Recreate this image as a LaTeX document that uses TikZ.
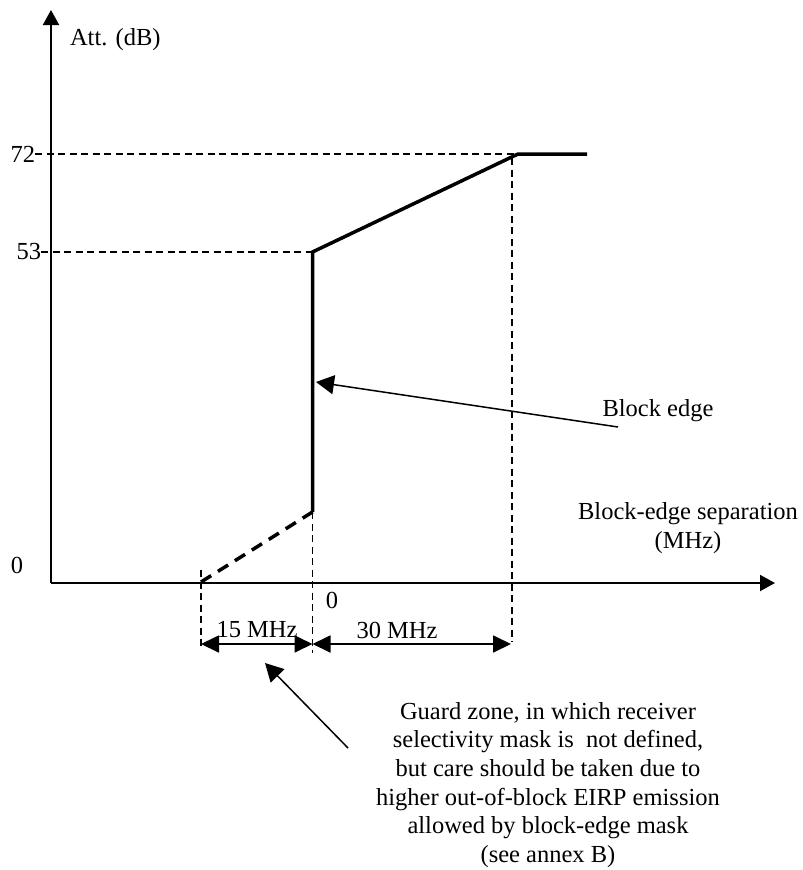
\documentclass[tikz,border=0pt]{standalone}
\usepackage{fontspec}
\setmainfont{Liberation Serif}
\usetikzlibrary{arrows.meta}
\begin{document}
\begin{tikzpicture}[x=1pt,y=-1pt,
  every node/.style={inner sep=0pt,outer sep=0pt,font=\fontsize{24.5}{28.7}\selectfont},
  axis/.style={line width=2pt,-{Triangle[length=15pt,width=16pt]}},
  curve/.style={line width=3.5pt,line join=miter},
  thickdash/.style={line width=3.5pt,dash pattern=on 12pt off 8pt},
  guide/.style={line width=1.5pt,dash pattern=on 7pt off 4.5pt},
  dim/.style={line width=1.8pt,{Triangle[length=18pt,width=17pt]}-{Triangle[length=18pt,width=17pt]}},
  pointer/.style={line width=1.5pt,-{Triangle[length=18pt,width=19pt]}},
  txt/.style={align=center}
]
\useasboundingbox (0,0) rectangle (803,870);
% coordinates
\coordinate (O) at (51,583);
\coordinate (Ytop) at (51,10);
\coordinate (Xend) at (775,583);
\coordinate (A) at (312.5,512);
\coordinate (B) at (312.5,252);
\coordinate (C) at (518,154);
\coordinate (D) at (587,154);
\coordinate (G) at (201,582);
\coordinate (L72) at (35,154);
\coordinate (L53) at (41,252);
\coordinate (V30t) at (512,158);
\coordinate (V30b) at (512,642);
\coordinate (V0b) at (312.5,653);
\coordinate (V15t) at (201,570);
\coordinate (V15b) at (201,648);
\coordinate (D15a) at (201,644);
\coordinate (D0) at (312.5,644);
\coordinate (D30b) at (511,644);
\coordinate (BEtip) at (316,382);
\coordinate (BEtail) at (618,427);
\coordinate (GZtip) at (265,663);
\coordinate (GZtail) at (348,748);
% axes
\draw[axis] (O) -- (Ytop);
\draw[axis] (O) -- (Xend);
% guides
\draw[guide] (L72) -- (C);
\draw[guide] (L53) -- (B);
\draw[guide] (V30t) -- (V30b);
\draw[guide] (A) -- (V0b);
\draw[guide] (V15t) -- (V15b);
% mask curve
\draw[curve] (A) -- (B) -- (C) -- (D);
\draw[thickdash] (G) -- (A);
% dimensions
\draw[dim] (D15a) -- (D0);
\draw[dim] (D0) -- (D30b);
% pointers
\draw[pointer] (BEtail) -- (BEtip);
\draw[pointer] (GZtail) -- (GZtip);
% labels
\node[anchor=west] (att) at (70,40) {Att. (dB)};
\node[anchor=east] (n72) at (35,154) {72};
\node[anchor=east] (n53) at (41,252) {53};
\node (n0l) at (17,565) {0};
\node (n0) at (332,600) {0};
\node (m15) at (257,630) {15 MHz};
\node (m30) at (397,630) {30 MHz};
\node (be) at (658,411) {Block edge};
\node[txt] (sep) at (688,528) {Block-edge separation\\(MHz)};
\node[txt] (gz) at (548,785) {Guard zone, in which receiver\\selectivity mask is \ not defined,\\but care should be taken due to\\higher out-of-block EIRP emission\\allowed by block-edge mask\\(see annex B)};
\end{tikzpicture}
\end{document}
